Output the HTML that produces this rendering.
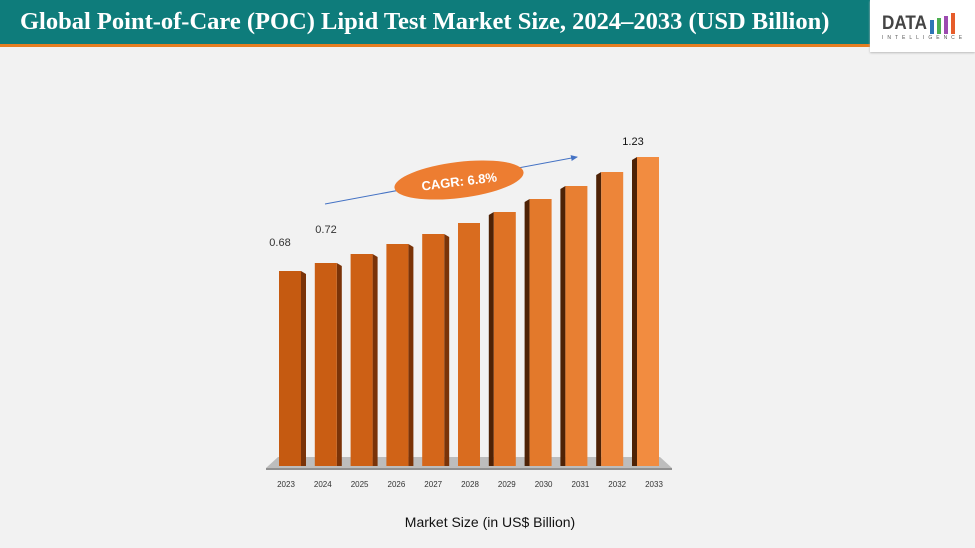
<!DOCTYPE html>
<html><head><style>
body{margin:0;width:975px;height:548px;background:#f2f2f2;font-family:"Liberation Sans",sans-serif;position:relative;overflow:hidden}
.hdr{position:absolute;left:0;top:0;width:870px;height:44px;background:#0e7c7b;border-bottom:3px solid #e67e22}
.hdr span{position:absolute;left:20px;top:8px;color:#fff;font-family:"Liberation Serif",serif;font-weight:bold;font-size:24.5px;white-space:nowrap}
.logo{position:absolute;left:870px;top:0;width:105px;height:52px;background:#fff;box-shadow:0 1px 2px #bbb}
</style></head><body>
<div class="hdr"><span>Global Point-of-Care (POC) Lipid Test Market Size, 2024–2033 (USD Billion)</span></div>
<div class="logo">
<div style="position:absolute;left:12px;top:13px;font-weight:bold;font-size:19px;color:#444;transform:scaleX(0.9);transform-origin:left">DATA</div>
<div style="position:absolute;left:60px;top:20px;width:4px;height:14px;background:#2e75b6"></div>
<div style="position:absolute;left:67px;top:18px;width:4px;height:16px;background:#4caf50"></div>
<div style="position:absolute;left:74px;top:16px;width:4px;height:18px;background:#9c4bb0"></div>
<div style="position:absolute;left:81px;top:13px;width:4px;height:21px;background:#e65c2a"></div>
<div style="position:absolute;left:12px;top:35px;font-size:5px;color:#555;letter-spacing:4px">INTELLIGENCE</div>
</div>
<svg width="975" height="548" style="position:absolute;left:0;top:0">
<defs>
<marker id="ar" markerWidth="8" markerHeight="8" refX="6" refY="3" orient="auto"><path d="M0,0L7,3L0,6z" fill="#4472c4"/></marker>
</defs>
<polygon points="278,457 660,457 672,468 266,468" fill="#bdbdbd"/>
<line x1="266" y1="469" x2="672" y2="469" stroke="#555" stroke-width="1.2"/>
<g id="bars"></g>
<line x1="325" y1="204" x2="577" y2="157" stroke="#4472c4" stroke-width="1" marker-end="url(#ar)"/>
<ellipse cx="459" cy="180" rx="65" ry="18" fill="#ed7d31" transform="rotate(-7 459 180)"/>
<text x="459" y="186" text-anchor="middle" font-size="13" font-weight="bold" fill="#fff" transform="rotate(-7 459 180)">CAGR: 6.8%</text>
<text x="280" y="246" text-anchor="middle" font-size="11" fill="#333">0.68</text>
<text x="326" y="233" text-anchor="middle" font-size="11" fill="#333">0.72</text>
<text x="633" y="145" text-anchor="middle" font-size="11" fill="#111">1.23</text>
<text x="490" y="527" text-anchor="middle" font-size="14" fill="#111">Market Size (in US$ Billion)</text>
</svg>
<script>
var tops=[271,263,254,244,234,223,212,199,186,172,157],yrs=[2023,2024,2025,2026,2027,2028,2029,2030,2031,2032,2033];
var s='',g=document.getElementById('bars');
for(var i=0;i<11;i++){var c=290+i*35.8,lc=286+i*36.8,x=c-11,t=tops[i],cols=['#c55a11','#c95d13','#cd6015','#d06317','#d4661a','#d96c1f','#de7225','#e3792b','#e87f32','#ed8539','#f28c40'];
if(i<5)s+='<polygon points="'+(x+22)+','+t+' '+(x+27)+','+(t+3)+' '+(x+27)+','+466+' '+(x+22)+',466" fill="#7a3308"/>';
else if(i>5)s+='<polygon points="'+x+','+t+' '+(x-5)+','+(t+3)+' '+(x-5)+',466 '+x+',466" fill="#4e2206"/>';
s+='<rect x="'+x+'" y="'+t+'" width="22" height="'+(466-t)+'" fill="'+cols[i]+'"/>';
s+='<text x="'+lc+'" y="487" text-anchor="middle" font-size="8" fill="#333">'+yrs[i]+'</text>';}
g.innerHTML=s;
</script>
</body></html>
